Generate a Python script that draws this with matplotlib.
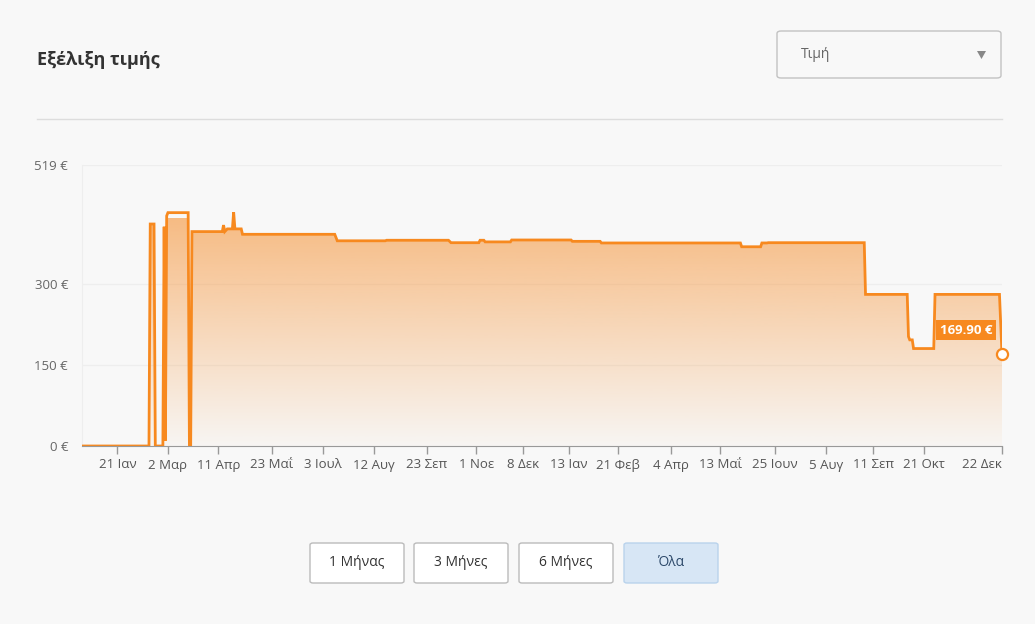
import matplotlib
matplotlib.use("Agg")
import matplotlib.pyplot as plt
import matplotlib.dates as mdates
from matplotlib.patches import FancyBboxPatch, Polygon
import numpy as np
import pandas as pd

plt.rcParams['font.family'] = ['Open Sans', 'DejaVu Sans']

# price history (date, €)
price_dates = ["2021-12-24", "2022-02-15", "2022-02-16", "2022-02-19", "2022-02-20",
               "2022-02-26", "2022-02-27", "2022-02-28", "2022-03-01", "2022-03-02",
               "2022-03-18", "2022-03-19", "2022-03-20", "2022-03-21", "2022-04-14",
               "2022-04-15", "2022-04-16", "2022-04-18", "2022-04-22", "2022-04-23",
               "2022-04-24", "2022-04-29", "2022-04-30", "2022-07-12", "2022-07-14",
               "2022-08-21", "2022-08-22", "2022-10-10", "2022-10-12", "2022-11-03",
               "2022-11-04", "2022-11-07", "2022-11-08", "2022-11-28", "2022-11-29",
               "2023-01-15", "2023-01-16", "2023-02-07", "2023-02-08", "2023-05-29",
               "2023-05-30", "2023-06-14", "2023-06-15", "2023-06-19", "2023-06-20",
               "2023-09-04", "2023-09-05", "2023-10-08", "2023-10-09", "2023-10-10",
               "2023-10-12", "2023-10-13", "2023-10-29", "2023-10-30", "2023-12-20",
               "2023-12-22"]
prices = [0, 0, 410, 410, 0,
          0, 405, 10, 425, 431,
          431, 0, 0, 396, 396,
          408, 396, 401, 401, 432,
          401, 401, 391, 391, 379,
          379, 380, 380, 375.5, 375.5,
          380, 380, 377, 377, 380.5,
          380.5, 378, 378, 375, 375,
          368, 368, 375, 375, 375.5,
          375.5, 280, 280, 202, 196,
          196, 180, 180, 280, 280,
          169.9]

tick_dates = ["2022-01-21", "2022-03-02", "2022-04-11", "2022-05-23", "2022-07-03",
              "2022-08-12", "2022-09-23", "2022-11-01", "2022-12-08", "2023-01-13",
              "2023-02-21", "2023-04-04", "2023-05-13", "2023-06-25", "2023-08-05",
              "2023-09-11", "2023-10-21", "2023-12-22"]
tick_labels = ["21 Ιαν", "2 Μαρ", "11 Απρ", "23 Μαΐ", "3 Ιουλ", "12 Αυγ", "23 Σεπ",
               "1 Νοε", "8 Δεκ", "13 Ιαν", "21 Φεβ", "4 Απρ", "13 Μαΐ", "25 Ιουν",
               "5 Αυγ", "11 Σεπ", "21 Οκτ", "22 Δεκ"]
y_ticks = [0, 150, 300, 519]
y_labels = ["0 €", "150 €", "300 €", "519 €"]
buttons = ["1 Μήνας", "3 Μήνες", "6 Μήνες", "Όλα"]

bg = "#f8f8f8"
orange = "#f7891f"
W, H = 1035, 624

fig = plt.figure(figsize=(W / 100, H / 100), dpi=100, facecolor=bg)

def fx(px):
    return px / W

def fy(py):
    return 1 - py / H

# header
fig.text(fx(37), fy(60), "Εξέλιξη τιμής", fontsize=13, fontweight="bold",
         color="#333333", va="center", ha="left")
fig.add_artist(plt.Line2D([fx(37), fx(1002)], [fy(119), fy(119)], color="#dddddd", lw=1))

dd = FancyBboxPatch((fx(777), fy(78)), fx(224), 47 / H, boxstyle="round,pad=0,rounding_size=0.004",
                    transform=fig.transFigure, facecolor=bg, edgecolor="#c2c2c2", lw=1)
fig.add_artist(dd)
fig.text(fx(801), fy(55), "Τιμή", fontsize=10, color="#666666", va="center", ha="left")
fig.add_artist(Polygon([[fx(977), fy(51)], [fx(986), fy(51)], [fx(981.5), fy(59)]], closed=True,
                       transform=fig.transFigure, facecolor="#888888", edgecolor="none"))

# chart
ax = fig.add_axes([fx(82), fy(446), fx(920), (446 - 165) / H])
ax.set_facecolor(bg)
d = pd.to_datetime(price_dates)
x = mdates.date2num(d)
p = np.array(prices)

ax.set_xlim(x[0], x[-1])
ax.set_ylim(0, 519)

# gradient fill under line
grad = np.zeros((256, 1, 4))
base = np.array([246, 150, 60]) / 255
grad[:, 0, :3] = base
grad[:, 0, 3] = np.linspace(0.62, 0.03, 256)
im = ax.imshow(grad, aspect="auto", extent=[x[0], x[-1], 0, 420], origin="upper", zorder=1)
verts = np.column_stack([np.concatenate([[x[0]], x, [x[-1]]]),
                         np.concatenate([[0], p, [0]])])
clip = Polygon(verts, closed=True, transform=ax.transData, facecolor="none", edgecolor="none")
ax.add_patch(clip)
im.set_clip_path(clip)

ax.plot(x, p, color=orange, lw=2, zorder=3, solid_joinstyle="miter")
ax.plot(x[-1], p[-1], "o", ms=8, mfc="white", mec=orange, mew=1.6, zorder=5, clip_on=False)
ax.annotate("169.90 €", (x[-1], p[-1]), xytext=(-36, 24), textcoords="offset pixels",
            ha="center", va="center", fontsize=9.5, fontweight="bold", color="white",
            bbox=dict(boxstyle="square,pad=0.25", fc=orange, ec="none"), zorder=6)

for yv in y_ticks[1:]:
    ax.axhline(yv, color="#eeeeee", lw=1, zorder=0)
ax.set_yticks(y_ticks)
ax.set_yticklabels(y_labels)
ax.set_xticks(mdates.date2num(pd.to_datetime(tick_dates)))
ax.set_xticklabels(tick_labels)
ax.get_xticklabels()[-1].set_ha("right")
ax.tick_params(axis="y", length=0, pad=10, labelsize=9.5, labelcolor="#666666")
ax.tick_params(axis="x", length=6, width=1, color="#999999", pad=3, labelsize=9.5,
               labelcolor="#555555")
for s in ["top", "right"]:
    ax.spines[s].set_visible(False)
ax.spines["left"].set_color("#eeeeee")
ax.spines["bottom"].set_color("#999999")
ax.spines["bottom"].set_zorder(4)

# range buttons
lefts = [310, 414, 519, 624]
for i, lab in enumerate(buttons):
    active = (lab == "Όλα")
    b = FancyBboxPatch((fx(lefts[i]), fy(583)), fx(94), 40 / H,
                       boxstyle="round,pad=0,rounding_size=0.003", transform=fig.transFigure,
                       facecolor="#d7e6f5" if active else "white",
                       edgecolor="#b9d3ec" if active else "#bbbbbb", lw=1)
    fig.add_artist(b)
    fig.text(fx(lefts[i] + 47), fy(563), lab, fontsize=10, ha="center", va="center",
             color="#2e4a6b" if active else "#333333")

fig.savefig("out.png", dpi=100, facecolor=bg)
